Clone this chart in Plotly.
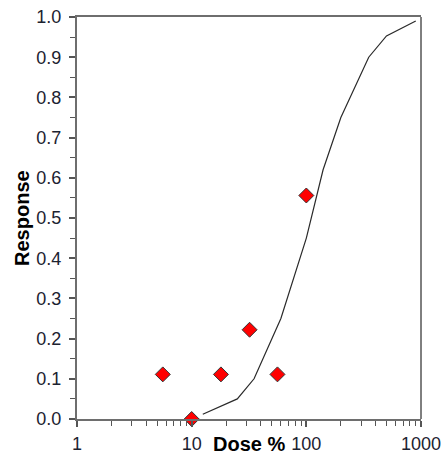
import plotly.graph_objects as go

dose_obs = [5.6, 10, 18, 32, 56, 100]
resp_obs = [0.111, 0.0, 0.111, 0.222, 0.111, 0.556]

dose_fit = [12.5, 25, 35, 60, 100, 140, 200, 350, 500, 900]
resp_fit = [0.012, 0.05, 0.10, 0.25, 0.45, 0.62, 0.75, 0.90, 0.953, 0.99]

x_ticks = [1, 10, 100, 1000]
y_ticks = [0.0, 0.1, 0.2, 0.3, 0.4, 0.5, 0.6, 0.7, 0.8, 0.9, 1.0]

fig = go.Figure()
fig.add_trace(go.Scatter(x=dose_fit, y=resp_fit, mode="lines",
                         line=dict(color="#2a2a2a", width=1.2), showlegend=False))
fig.add_trace(go.Scatter(x=dose_obs, y=resp_obs, mode="markers", cliponaxis=False,
                         marker=dict(symbol="diamond", size=11.5, color="#ff0000",
                                     line=dict(color="#333333", width=1)),
                         showlegend=False))

FONT = "Liberation Sans, Arial, sans-serif"
axis_font = dict(family=FONT, size=18, color="#1c2230")
fig.update_layout(
    width=443, height=455,
    margin=dict(l=77, r=22, t=17, b=36),
    paper_bgcolor="white", plot_bgcolor="white",
    xaxis=dict(type="log", range=[0, 3], tickvals=x_ticks,
               ticktext=[str(v) for v in x_ticks], automargin=False,
               showgrid=False, zeroline=False, showline=True, linecolor="#6e6e6e",
               linewidth=2, mirror=True, ticks="outside", ticklen=6, tickwidth=1.5,
               tickcolor="#555555", tickfont=axis_font, ticklabelstandoff=1,
               minor=dict(ticks="outside", ticklen=5, tickwidth=1.2, tickcolor="#555555",
                          dtick="D1", showgrid=False)),
    yaxis=dict(range=[0, 1.0], tickvals=y_ticks, automargin=False,
               ticktext=[f"{v:.1f}" for v in y_ticks],
               showgrid=False, zeroline=False, showline=True, linecolor="#6e6e6e",
               linewidth=2, ticks="outside", ticklen=6, tickwidth=1.5,
               tickcolor="#555555", tickfont=axis_font, ticklabelstandoff=4,
               minor=dict(ticks="outside", ticklen=5, tickwidth=1.2, tickcolor="#555555",
                          dtick=0.05, showgrid=False)),
    shapes=[dict(type="line", xref="paper", yref="paper", x0=1, x1=1, y0=0, y1=1,
                 line=dict(color="black", width=1))],
    annotations=[
        dict(text="<b>Dose %</b>", xref="paper", yref="paper", x=0.5, y=-0.062,
             xanchor="center", yanchor="middle", showarrow=False,
             font=dict(family=FONT, size=20, color="black")),
        dict(text="<b>Response</b>", xref="paper", yref="paper", x=-0.16, y=0.5,
             xanchor="center", yanchor="middle", textangle=-90, showarrow=False,
             font=dict(family=FONT, size=20, color="black")),
    ],
)
fig.write_html("out.html", config={"displayModeBar": False},
               post_script="document.body.style.margin='0';document.body.style.overflow='hidden';")
